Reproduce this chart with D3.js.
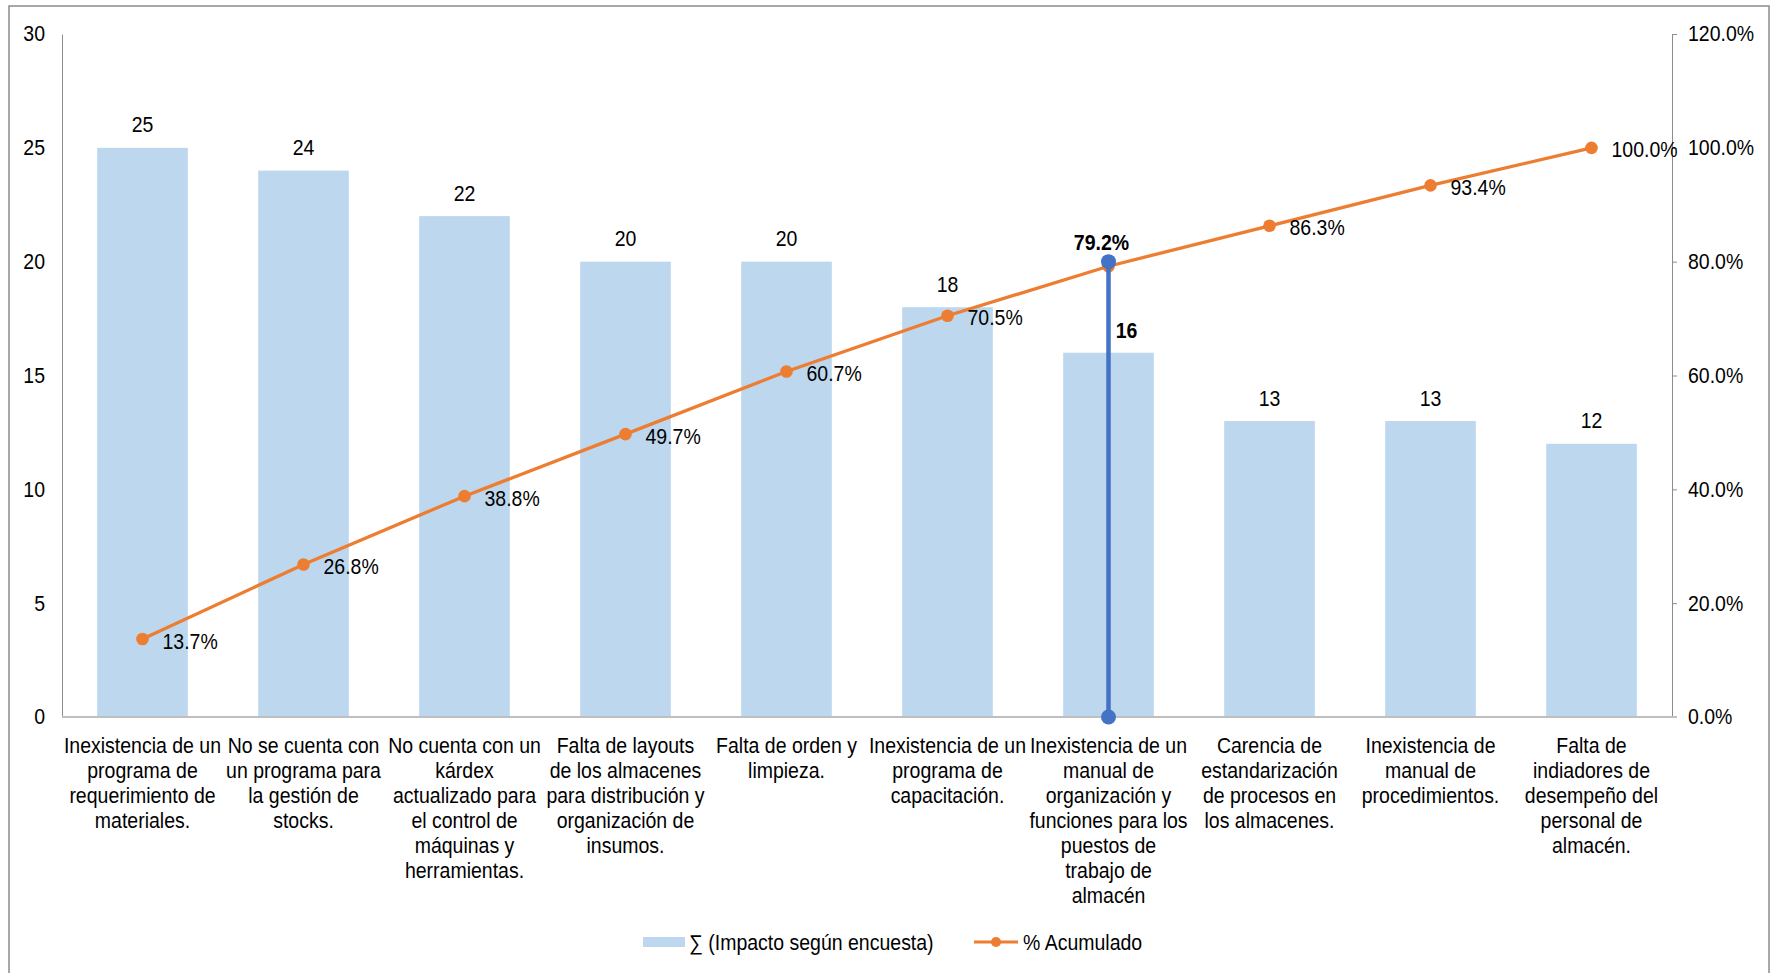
<!DOCTYPE html>
<html><head><meta charset="utf-8">
<script src="https://cdn.jsdelivr.net/npm/d3@7/dist/d3.min.js"></script>
<style>
body{margin:0;background:#fff;overflow:hidden}
text{font-family:"Liberation Sans",Arial,sans-serif;fill:#000;font-size:19.5px}
</style>
</head><body><svg id="c" width="1777" height="973"></svg>
<script>
// ---- data ----
const categories = [
  "Inexistencia de un\nprograma de\nrequerimiento de\nmateriales.",
  "No se cuenta con\nun programa para\nla gestión de\nstocks.",
  "No cuenta con un\nkárdex\nactualizado para\nel control de\nmáquinas y\nherramientas.",
  "Falta de layouts\nde los almacenes\npara distribución y\norganización de\ninsumos.",
  "Falta de orden y\nlimpieza.",
  "Inexistencia de un\nprograma de\ncapacitación.",
  "Inexistencia de un\nmanual de\norganización y\nfunciones para los\npuestos de\ntrabajo de\nalmacén",
  "Carencia de\nestandarización\nde procesos en\nlos almacenes.",
  "Inexistencia de\nmanual de\nprocedimientos.",
  "Falta de\nindiadores de\ndesempeño del\npersonal de\nalmacén."
];
const impacto = [25, 24, 22, 20, 20, 18, 16, 13, 13, 12];
const acumulado = [13.7, 26.8, 38.8, 49.7, 60.7, 70.5, 79.2, 86.3, 93.4, 100.0];
const leftTicks = [0, 5, 10, 15, 20, 25, 30];
const rightTicks = [0, 20, 40, 60, 80, 100, 120];
const highlightIndex = 6;
const markerValues = [0, 80];          // vertical marker line (% axis)
const legendLabels = ["∑ (Impacto según encuesta)", "% Acumulado"];

// ---- style ----
const BAR = "#BDD7EE", ORANGE = "#ED7D31", BLUE = "#4472C4";
const SY = 1.1;

const svg = d3.select("#c");
svg.append("rect").attr("x", 9).attr("y", 6).attr("width", 1760).attr("height", 990)
  .attr("fill", "#fff").attr("stroke", "#8c8c8c").attr("stroke-width", 1.5);

const L = 62, R = 1672, T = 34, B = 717;
const x = d3.scaleBand().domain(d3.range(categories.length)).range([L, R])
  .paddingInner(0.437).paddingOuter(0.2185);
const cx = i => x(i) + x.bandwidth() / 2;
const yL = d3.scaleLinear().domain([0, 30]).range([B, T]);
const yR = d3.scaleLinear().domain([0, 120]).range([B, T]);

function txt(g, px, py, s, anchor, bold) {
  return g.append("text").attr("transform", `translate(${px},${py}) scale(1,${SY})`)
    .attr("text-anchor", anchor || "start").attr("font-weight", bold ? "bold" : null).text(s);
}

// bars
svg.append("g").selectAll("rect").data(impacto).join("rect")
  .attr("x", (d, i) => x(i)).attr("width", x.bandwidth())
  .attr("y", d => yL(d)).attr("height", d => B - yL(d)).attr("fill", BAR);

// left axis
const gl = svg.append("g").attr("transform", `translate(${L},0)`)
  .call(d3.axisLeft(yL).tickValues(leftTicks).tickSize(0).tickSizeOuter(0).tickPadding(17));
gl.select(".domain").attr("stroke", "#8c8c8c").attr("stroke-width", 1);
gl.selectAll("text").attr("font-size", "19.5px").attr("font-family", "Liberation Sans, Arial, sans-serif")
  .attr("transform", `scale(1,${SY})`);

// right axis
const gr = svg.append("g").attr("transform", `translate(${R},0)`)
  .call(d3.axisRight(yR).tickValues(rightTicks).tickSize(5).tickSizeOuter(0).tickPadding(11)
    .tickFormat(d => d.toFixed(1) + "%"));
gr.select(".domain").attr("stroke", "#8c8c8c").attr("stroke-width", 1);
gr.selectAll("line").attr("stroke", "#8c8c8c");
gr.selectAll("text").attr("font-size", "19.5px").attr("font-family", "Liberation Sans, Arial, sans-serif")
  .attr("transform", `scale(1,${SY})`);

// bottom axis with category labels
const gb = svg.append("g").attr("transform", `translate(0,${B})`)
  .call(d3.axisBottom(x).tickSize(0).tickSizeOuter(0).tickFormat(""));
gb.select(".domain").remove();
gb.selectAll(".tick text").each(function (d) {
  const t = d3.select(this).attr("y", null).attr("dy", null)
    .attr("font-size", "19.5px").attr("font-family", "Liberation Sans, Arial, sans-serif")
    .attr("transform", `scale(1,${SY})`);
  categories[d].split("\n").forEach((line, k) => {
    t.append("tspan").attr("x", 0).attr("y", 32.3 + k * 25 / SY).text(line);
  });
});
svg.append("line").attr("x1", L).attr("x2", R + 5).attr("y1", B).attr("y2", B)
  .attr("stroke", "#bfbfbf").attr("stroke-width", 2);

// bar value labels
const lb = svg.append("g");
impacto.forEach((v, i) => {
  if (i === highlightIndex) txt(lb, cx(i) + 18, yL(v) - 15, v, "middle", true);
  else txt(lb, cx(i), yL(v) - 15.5, v, "middle");
});

// cumulative line
const line = d3.line().x((d, i) => cx(i)).y(d => yR(d));
svg.append("path").datum(acumulado).attr("d", line).attr("fill", "none")
  .attr("stroke", ORANGE).attr("stroke-width", 3.3);
svg.append("g").selectAll("circle").data(acumulado).join("circle")
  .attr("cx", (d, i) => cx(i)).attr("cy", d => yR(d)).attr("r", 6.3).attr("fill", ORANGE);

const lp = svg.append("g");
acumulado.forEach((v, i) => {
  if (i === highlightIndex) txt(lp, cx(i) - 7, yR(v) - 16.5, v.toFixed(1) + "%", "middle", true);
  else txt(lp, cx(i) + 20, yR(v) + 9.5, v.toFixed(1) + "%", "start");
});

// vertical marker
const mx = cx(highlightIndex);
svg.append("line").attr("x1", mx).attr("x2", mx)
  .attr("y1", yR(markerValues[0])).attr("y2", yR(markerValues[1]))
  .attr("stroke", BLUE).attr("stroke-width", 4.5);
svg.append("g").selectAll("circle").data(markerValues).join("circle")
  .attr("cx", mx).attr("cy", d => yR(d)).attr("r", 7.5).attr("fill", BLUE);

// legend
const lg = svg.append("g");
lg.append("rect").attr("x", 643).attr("y", 937).attr("width", 42).attr("height", 10).attr("fill", BAR);
txt(lg, 689, 949.5, legendLabels[0], "start");
lg.append("line").attr("x1", 974).attr("x2", 1018).attr("y1", 942).attr("y2", 942)
  .attr("stroke", ORANGE).attr("stroke-width", 3);
lg.append("circle").attr("cx", 996).attr("cy", 942).attr("r", 5).attr("fill", ORANGE);
txt(lg, 1023, 949.5, legendLabels[1], "start");
</script></body></html>
